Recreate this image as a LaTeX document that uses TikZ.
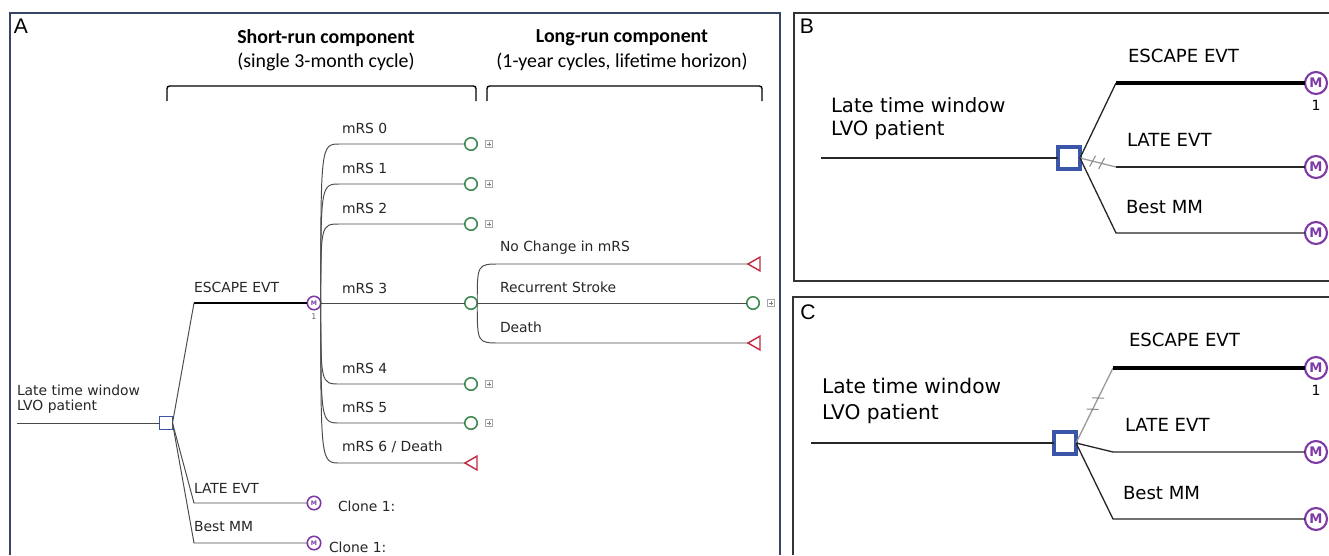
\documentclass[tikz,border=0pt]{standalone}
\usepackage{fontspec}
\setmainfont{DejaVu Sans}
\newfontfamily\hdfont{Carlito}
\newfontfamily\pnfont{Liberation Sans}
\usepackage{tikz}
\usetikzlibrary{shapes.geometric,decorations.markings}

\definecolor{decblue}{HTML}{3B55A8}
\definecolor{mkpurple}{HTML}{7D3AA6}
\definecolor{chgreen}{HTML}{3E8A50}
\definecolor{tmred}{HTML}{C4283F}
\definecolor{lngray}{HTML}{4A4A4A}
\definecolor{frmblue}{HTML}{3A4464}

\begin{document}
\begin{tikzpicture}[x=0.02cm, y=-0.02cm,
    every node/.style={inner sep=0pt, outer sep=0pt},
    lblA/.style={anchor=west, text=black!85, font=\fontsize{7.9}{9}\selectfont},
    lblB/.style={anchor=west, font=\fontsize{10.3}{12}\selectfont},
    rootB/.style={anchor=west, font=\fontsize{11.2}{13}\selectfont},
    rootC/.style={anchor=west, font=\fontsize{11.5}{13}\selectfont},
    hdbold/.style={font=\hdfont\bfseries\fontsize{11.3}{13}\selectfont},
    hdreg/.style={font=\hdfont\fontsize{11.3}{13}\selectfont},
    pnlbl/.style={font=\pnfont\fontsize{12}{14}\selectfont},
    oneA/.style={text=black!60, font=\fontsize{4.5}{5}\selectfont},
    oneB/.style={font=\fontsize{8}{9}\selectfont},
    decA/.style={rectangle, draw=decblue, line width=1.1pt, minimum size=0.26cm},
    decB/.style={rectangle, draw=decblue, line width=1.8pt, minimum size=0.44cm},
    chA/.style={circle, draw=chgreen, line width=0.9pt, minimum size=0.25cm},
    mkA/.style={circle, draw=mkpurple, line width=0.9pt, minimum size=0.27cm,
        text=mkpurple, font=\fontsize{3.5}{4}\selectfont\bfseries},
    mkB/.style={circle, draw=mkpurple, line width=1.2pt, minimum size=0.44cm,
        text=mkpurple, font=\fontsize{7.5}{8}\selectfont\bfseries},
    termA/.style={regular polygon, regular polygon sides=3, shape border rotate=90,
        draw=tmred, line width=0.8pt, minimum size=0.32cm},
    plusbox/.style={draw=black!35, line width=0.4pt, minimum size=0.15cm,
        path picture={\draw[black!50, line width=0.35pt]
            ([xshift=-0.045cm]path picture bounding box.center) -- ([xshift=0.045cm]path picture bounding box.center)
            ([yshift=-0.045cm]path picture bounding box.center) -- ([yshift=0.045cm]path picture bounding box.center);}},
    lnA/.style={draw=lngray, line width=0.55pt},
    thkA/.style={draw=black, line width=1.3pt},
    lnB/.style={draw=black!85, line width=0.75pt},
    thkB/.style={draw=black, line width=2.4pt},
    grayB/.style={draw=black!40, line width=0.75pt},
    slashB/.style={postaction={decorate, decoration={markings,
        mark=at position 0.35 with {\draw[black!45, line width=0.6pt] (-0.03cm,-0.12cm) -- (0.03cm,0.12cm);},
        mark=at position 0.6 with {\draw[black!45, line width=0.6pt] (-0.03cm,-0.12cm) -- (0.03cm,0.12cm);}}}},
    slashC/.style={postaction={decorate, decoration={markings,
        mark=at position 0.45 with {\draw[black!45, line width=0.6pt] (0.05cm,-0.11cm) -- (-0.05cm,0.11cm);},
        mark=at position 0.6 with {\draw[black!45, line width=0.6pt] (0.05cm,-0.11cm) -- (-0.05cm,0.11cm);}}}},
    brk/.style={draw=black, line width=0.8pt, rounded corners=1.5pt},
    frmA/.style={draw=frmblue, line width=0.7pt},
    frmB/.style={draw=black!80, line width=0.8pt}]

    \useasboundingbox (0,0) rectangle (1329,555);

    % ---------- panel A ----------
    \draw[frmA] (10,555) -- (10,13) -- (780,13) -- (780,555);
    \node[pnlbl] (labA) at (21,26) {A};

    % headers and brackets
    \node[hdbold] (shortT) at (326,38) {Short-run component};
    \node[hdreg] (shortS) at (326,62) {(single 3-month cycle)};
    \node[hdbold] (longT) at (622,38) {Long-run component};
    \node[hdreg] (longS) at (622,62) {(1-year cycles, lifetime horizon)};
    \draw[brk] (167,101) -- (167,86) -- (476,86) -- (476,101);
    \draw[brk] (487,101) -- (487,86) -- (762,86) -- (762,101);

    % nodes
    \coordinate (rootA) at (17,423);
    \node[decA] (decA) at (166,423) {};
    \node[lblA] (ltwA) at (17,390) {Late time window};
    \node[lblA] (lvoA) at (17,407) {LVO patient};

    \coordinate (escA) at (194,303);
    \node[mkA] (mEscA) at (314,303) {M};
    \node[oneA] (oneA) at (314,317) {1};
    \node[lblA] (escAl) at (194,287) {ESCAPE EVT};

    \coordinate (lateA) at (194,503);
    \node[mkA] (mLateA) at (314,503) {M};
    \node[lblA] (lateAl) at (194,488) {LATE EVT};
    \node[lblA] (cloneL) at (338,506) {Clone 1:};

    \coordinate (bestA) at (194,543);
    \node[mkA] (mBestA) at (314,543) {M};
    \node[lblA] (bestAl) at (194,527) {Best MM};
    \node[lblA] (cloneB) at (329,547) {Clone 1:};

    % mRS states
    \coordinate (r0) at (340,144);
    \node[chA] (c0) at (471,144) {};
    \node[plusbox] (p0) at (489,144) {};
    \node[lblA] (l0) at (342,128) {mRS 0};

    \coordinate (r1) at (340,184);
    \node[chA] (c1) at (471,184) {};
    \node[plusbox] (p1) at (489,184) {};
    \node[lblA] (l1) at (342,168) {mRS 1};

    \coordinate (r2) at (340,224);
    \node[chA] (c2) at (471,224) {};
    \node[plusbox] (p2) at (489,224) {};
    \node[lblA] (l2) at (342,208) {mRS 2};

    \node[chA] (c3) at (471,303) {};
    \node[lblA] (l3) at (342,288) {mRS 3};

    \coordinate (r4) at (340,384);
    \node[chA] (c4) at (471,384) {};
    \node[plusbox] (p4) at (489,384) {};
    \node[lblA] (l4) at (342,368) {mRS 4};

    \coordinate (r5) at (340,423);
    \node[chA] (c5) at (471,423) {};
    \node[plusbox] (p5) at (489,423) {};
    \node[lblA] (l5) at (342,407) {mRS 5};

    \coordinate (r6) at (340,463);
    \node[termA] (t6) at (473,463) {};
    \node[lblA] (l6) at (342,447) {mRS 6 / Death};

    % long-run states
    \coordinate (n1) at (500,264);
    \node[termA] (tNc) at (756,264) {};
    \node[lblA] (nNc) at (500,248) {No Change in mRS};
    \node[chA] (cRs) at (753,303) {};
    \node[plusbox] (pRs) at (771,303) {};
    \node[lblA] (nRs) at (500,287) {Recurrent Stroke};
    \coordinate (n3) at (500,343);
    \node[termA] (tDe) at (756,343) {};
    \node[lblA] (nDe) at (500,327) {Death};

    % edges from the decision node
    \draw[lnA] (rootA) -- (decA);
    \draw[lnA] (decA.east) -- (escA);
    \draw[thkA] (escA) -- (mEscA);
    \draw[lnA] (decA.east) -- (lateA) -- (mLateA);
    \draw[lnA] (decA.east) -- (bestA) -- (mBestA);

    % edges from the Markov node
    \draw[lnA] (mEscA.east) .. controls (mEscA.east |- r0) .. (r0) -- (c0);
    \draw[lnA] (mEscA.east) .. controls (mEscA.east |- r1) .. (r1) -- (c1);
    \draw[lnA] (mEscA.east) .. controls (mEscA.east |- r2) .. (r2) -- (c2);
    \draw[lnA] (mEscA) -- (c3);
    \draw[lnA] (mEscA.east) .. controls (mEscA.east |- r4) .. (r4) -- (c4);
    \draw[lnA] (mEscA.east) .. controls (mEscA.east |- r5) .. (r5) -- (c5);
    \draw[lnA] (mEscA.east) .. controls (mEscA.east |- r6) .. (r6) -- (t6);

    % edges from mRS 3
    \draw[lnA] (c3.east) .. controls (c3.east |- n1) .. (n1) -- (tNc);
    \draw[lnA] (c3) -- (cRs);
    \draw[lnA] (c3.east) .. controls (c3.east |- n3) .. (n3) -- (tDe);

    % ---------- panel B ----------
    \draw[frmB] (1329,13) -- (794,13) -- (794,281) -- (1329,281);
    \node[pnlbl] (labB) at (807,26) {B};

    \node[rootB] (ltwB) at (831,105) {Late time window};
    \node[rootB] (lvoB) at (831,130) {LVO patient};
    \coordinate (rootB) at (821,158);
    \node[decB] (decB) at (1069,158) {};

    \coordinate (escB) at (1116,83);
    \node[mkB] (mEscB) at (1316,83) {M};
    \node[oneB] (oneB) at (1316,105) {1};
    \node[lblB] (escBl) at (1128,56) {ESCAPE EVT};

    \coordinate (lateB) at (1116,167);
    \node[mkB] (mLateB) at (1316,167) {M};
    \node[lblB] (lateBl) at (1127,140) {LATE EVT};

    \coordinate (bestB) at (1116,233);
    \node[mkB] (mBestB) at (1316,233) {M};
    \node[lblB] (bestBl) at (1126,207) {Best MM};

    \draw[lnB] (rootB) -- (decB);
    \draw[lnB] (decB.east) -- (escB);
    \draw[thkB] (escB) -- (mEscB);
    \draw[grayB, slashB] (decB.east) -- (lateB);
    \draw[lnB] (lateB) -- (mLateB);
    \draw[lnB] (decB.east) -- (bestB) -- (mBestB);

    % ---------- panel C ----------
    \draw[frmB] (1329,297) -- (793,297) -- (793,555);
    \node[pnlbl] (labC) at (808,312) {C};

    \node[rootC] (ltwC) at (822,386) {Late time window};
    \node[rootC] (lvoC) at (822,414) {LVO patient};
    \coordinate (rootC) at (811,443);
    \node[decB] (decC) at (1065,443) {};

    \coordinate (escC) at (1113,368);
    \node[mkB] (mEscC) at (1316,368) {M};
    \node[oneB] (oneC) at (1316,390) {1};
    \node[lblB] (escCl) at (1129,340) {ESCAPE EVT};

    \coordinate (lateC) at (1113,452);
    \node[mkB] (mLateC) at (1316,452) {M};
    \node[lblB] (lateCl) at (1125,425) {LATE EVT};

    \coordinate (bestC) at (1113,519);
    \node[mkB] (mBestC) at (1316,519) {M};
    \node[lblB] (bestCl) at (1123,493) {Best MM};

    \draw[lnB] (rootC) -- (decC);
    \draw[grayB, slashC] (decC.east) -- (escC);
    \draw[thkB] (escC) -- (mEscC);
    \draw[lnB] (decC.east) -- (lateC) -- (mLateC);
    \draw[lnB] (decC.east) -- (bestC) -- (mBestC);
\end{tikzpicture}
\end{document}
